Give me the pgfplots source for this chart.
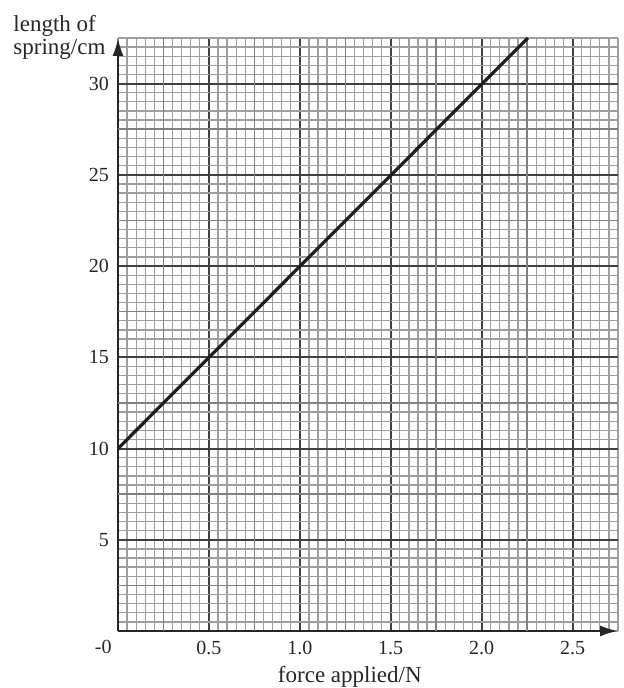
\documentclass[border=0pt]{standalone}
\usepackage{fontspec}
\setmainfont{Liberation Serif}
\usepackage{pgfplots}
\pgfplotsset{compat=1.18}
\usetikzlibrary{arrows.meta}
\begin{document}
\begin{tikzpicture}
\begin{axis}[
  scale only axis,
  width=250pt, height=296.5pt,
  xmin=0, xmax=2.75, ymin=0, ymax=32.5,
  axis x line=bottom, axis y line=left,
  axis line style={line width=1.2pt, color=black!85, -{Latex[length=9pt,width=5.5pt]}},
  xtick={0.5,1.0,1.5,2.0,2.5},
  xticklabels={0.5,1.0,1.5,2.0,2.5},
  ytick={5,10,15,20,25,30},
  minor xtick={0,0.05,...,2.76},
  minor ytick={0,0.5,...,32.6},
  extra x ticks={0.25,0.75,1.25,1.75,2.25},
  extra y ticks={2.5,7.5,12.5,17.5,22.5,27.5},
  extra tick style={grid=major, major grid style={line width=0.75pt, color=black!50}, ticklabel style={opacity=0}, major tick length=0pt},
  grid=both,
  minor grid style={line width=0.65pt, color=black!38},
  major grid style={line width=1.0pt, color=black!75},
  major tick length=0pt, minor tick length=0pt,
  tick label style={font=\fontsize{10}{12}\selectfont, color=black!85},
  /pgf/number format/assume math mode=true,
  /pgf/number format/fixed zerofill,
  yticklabel style={/pgf/number format/precision=0, /pgf/number format/fixed zerofill=false, xshift=-1pt},
  xticklabel style={yshift=-1.5pt},
  clip=false,
]
\addplot[line width=1.6pt, color=black!88] coordinates {(0,10) (2.254,32.5)};
\node[anchor=north east, font=\fontsize{10}{12}\selectfont, text=black!85, inner sep=0pt] at (axis cs:0,0) [xshift=-3pt, yshift=-4.5pt] {-0};
\node[font=\fontsize{11.5}{12}\selectfont, text=black!85, inner sep=0pt] at (axis cs:1.275,0) [yshift=-23pt] {force applied/N};
\end{axis}
\node[anchor=north west, align=left, font=\fontsize{11.5}{11.7}\selectfont, text=black!85, inner sep=0pt] at (-52.5pt,308pt) {length of\\spring/cm};
\useasboundingbox (-59pt,-28.5pt) rectangle (252.5pt,315.5pt);
\end{tikzpicture}
\end{document}
